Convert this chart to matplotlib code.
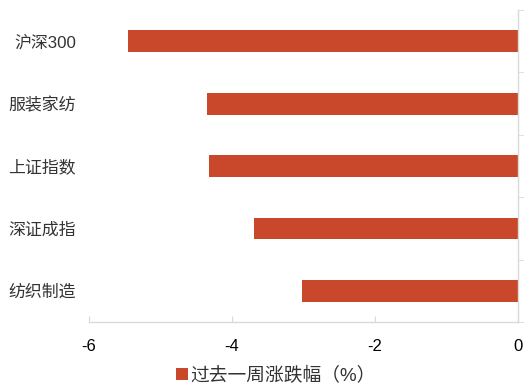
import matplotlib.pyplot as plt
from matplotlib.patches import Patch

plt.rcParams['font.family'] = ['Liberation Sans', 'Noto Sans CJK SC']

categories = ["沪深300", "服装家纺", "上证指数", "深证成指", "纺织制造"]
values = [-5.46, -4.35, -4.32, -3.69, -3.02]
series_name = "过去一周涨跌幅（%）"
bar_color = "#C9472A"
axis_color = "#D9D9D9"

fig = plt.figure(figsize=(5.24, 3.88), dpi=100)
ax = fig.add_axes([0.170, 0.170, 0.818, 0.804])

pos = list(range(len(categories)))
ax.barh(pos, values, height=0.35, color=bar_color, zorder=2)

ax.set_xlim(-6, 0)
ax.set_ylim(len(categories) - 0.5, -0.5)
ax.set_xticks([-6, -4, -2, 0])
ax.set_xticklabels(["-6", "-4", "-2", "0"])
ax.set_yticks(pos)
ax.set_yticklabels(categories)
ax.set_yticks([p - 0.5 for p in range(len(categories) + 1)], minor=True)

for s in ["left", "top"]:
    ax.spines[s].set_visible(False)
for s in ["bottom", "right"]:
    ax.spines[s].set_color(axis_color)
    ax.spines[s].set_linewidth(1.0)

ax.tick_params(axis="x", direction="in", length=4, color=axis_color,
               labelsize=12, labelcolor="#000000", pad=12)
ax.tick_params(axis="y", which="major", left=False, right=False,
               labelsize=12.2, labelcolor="#333333", pad=6)
ax.tick_params(axis="y", which="minor", left=False, right=True,
               length=5, color=axis_color)

handle = Patch(facecolor=bar_color, edgecolor="none")
fig.legend([handle], [series_name], loc="lower center", bbox_to_anchor=(0.527, -0.035),
           frameon=False, fontsize=13.5, handlelength=0.6, handleheight=0.6,
           handletextpad=0.15, labelcolor="#333333")

fig.savefig("out.png", dpi=100)
